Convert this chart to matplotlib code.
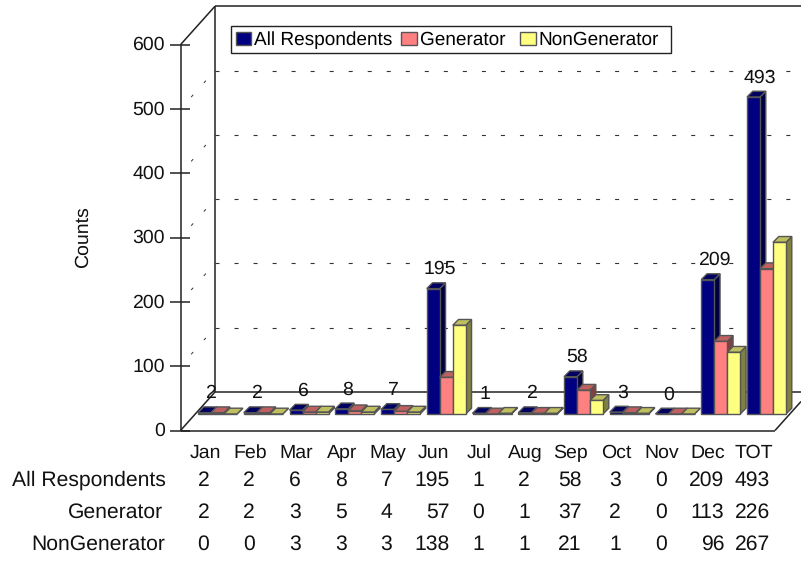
import matplotlib
matplotlib.use("Agg")
import matplotlib.pyplot as plt
from matplotlib.patches import Patch, Polygon, Rectangle
from matplotlib.transforms import Affine2D

months = ["Jan", "Feb", "Mar", "Apr", "May", "Jun", "Jul", "Aug", "Sep", "Oct", "Nov", "Dec", "TOT"]
all_respondents = [2, 2, 6, 8, 7, 195, 1, 2, 58, 3, 0, 209, 493]
generator = [2, 2, 3, 5, 4, 57, 0, 1, 37, 2, 0, 113, 226]
non_generator = [0, 0, 3, 3, 3, 138, 1, 1, 21, 1, 0, 96, 267]
series_names = ["All Respondents", "Generator", "NonGenerator"]
y_ticks = [0, 100, 200, 300, 400, 500, 600]

W, H = 801, 561
PX_PER_UNIT = 0.643
GROUP_STEP = 45.75
BASE_Y = 414       # pixel row of bar bases
FIRST_X = 217.5    # pixel column of the first group centre
FONT = 14
TABLE_FONT = 15.2
LEGEND_FONT = 13.7

# face, top, side colours for each series
colors = [("#000080", "#000060", "#000040"),
          ("#FF8080", "#BF6060", "#804040"),
          ("#FFFF80", "#BFBF60", "#808040")]
EDGE = "#555555"

plt.rcParams["font.family"] = ["Liberation Sans", "DejaVu Sans"]
plt.rcParams["text.hinting"] = "no_hinting"
plt.rcParams["lines.scale_dashes"] = False

fig = plt.figure(figsize=(W / 100, H / 100), dpi=100)
ax = fig.add_axes([0, 0, 1, 1])
ax.set_xlim(-FIRST_X / GROUP_STEP, (W - FIRST_X) / GROUP_STEP)
ax.set_ylim((BASE_Y - H) / PX_PER_UNIT, BASE_Y / PX_PER_UNIT)
ax.axis("off")

# pixel coordinates (y down) for the frame and table text
px = Affine2D().scale(1, -1).translate(0, H)
BLACK = "#111111"


def frame_line(xs, ys, **kw):
    ax.plot(xs, ys, transform=px, color="#222222", lw=1.1, solid_capstyle="butt", zorder=1, **kw)


# back wall and floor
FRONT_X, FRONT_Y = 180.5, 430.5
BACK_X, BACK_Y = 215, 392
top_front = FRONT_Y - 600 * PX_PER_UNIT
top_back = BACK_Y - 600 * PX_PER_UNIT
frame_line([FRONT_X, FRONT_X], [top_front, FRONT_Y])
frame_line([BACK_X, BACK_X], [top_back, BACK_Y])
frame_line([BACK_X, W], [top_back, top_back])
frame_line([BACK_X, W], [BACK_Y, BACK_Y])
frame_line([FRONT_X, 775], [FRONT_Y, FRONT_Y])
frame_line([FRONT_X, BACK_X], [FRONT_Y, BACK_Y])
frame_line([FRONT_X, BACK_X], [top_front, top_back])
frame_line([775, W], [FRONT_Y, FRONT_Y - 29])

for v in y_ticks:
    offset = v * PX_PER_UNIT
    frame_line([170, 190], [FRONT_Y - offset] * 2)
    ax.text(165, FRONT_Y - offset + 0.5, str(v), transform=px, ha="right", va="center",
            fontsize=FONT, color=BLACK)
    if 0 < v < 600:
        ax.plot([BACK_X, W], [BACK_Y - offset] * 2, transform=px, color="#333333", lw=0.8,
                linestyle=(0, (2.9, 10.8)), dash_capstyle="butt", zorder=1)
        ax.plot([FRONT_X, BACK_X], [FRONT_Y - offset, BACK_Y - offset], transform=px,
                color="#333333", lw=0.7, linestyle=(2.2, (2.2, 11.5)), dash_capstyle="butt", zorder=1)

ax.text(83, 237, "Counts", transform=px, rotation=90, ha="center", va="center",
        fontsize=FONT, color=BLACK)

# bars, drawn as front face plus top and side faces
bar_w = 13 / GROUP_STEP
dx = 5.8 / GROUP_STEP
dy = 5.8 / PX_PER_UNIT
series = [all_respondents, generator, non_generator]
z = 3
for i in range(len(months)):
    for s, values in enumerate(series):
        v = values[i]
        left = i + (s - 1.5) * bar_w
        right = left + bar_w
        face, top, side = colors[s]
        ax.add_patch(Polygon([(right, 0), (right + dx, dy), (right + dx, v + dy), (right, v)],
                             facecolor=side, edgecolor=EDGE, lw=1.0, zorder=z))
        ax.add_patch(Polygon([(left, v), (right, v), (right + dx, v + dy), (left + dx, v + dy)],
                             facecolor=top, edgecolor=EDGE, lw=1.0, zorder=z))
        ax.bar(left, v, width=bar_w, align="edge", color=face, edgecolor=EDGE, lw=1.0, zorder=z + 0.5)
        z += 1

# value labels above the All Respondents bars
for i, v in enumerate(all_respondents):
    ax.annotate(str(v), (i - bar_w, v), xytext=(4.5, 14), textcoords="offset points",
                ha="center", va="center", fontsize=FONT, color=BLACK, zorder=200)

# month labels and data rows under the chart
for i, m in enumerate(months):
    centre = 205 + 45.7 * i
    ax.text(centre, 453, m, transform=px, ha="center", va="center", fontsize=FONT, color=BLACK)

row_ys = [480.5, 512.5, 544.5]
label_right = [166, 163, 165]
for r, values in enumerate(series):
    ax.text(label_right[r], row_ys[r], series_names[r], transform=px, ha="right", va="center",
            fontsize=TABLE_FONT, color=BLACK)
    for i, v in enumerate(values):
        widest = max(len(str(column[i])) for column in series)
        right = 203.5 + GROUP_STEP * i + widest * 5.9
        ax.text(right, row_ys[r], str(v), transform=px, ha="right", va="center",
                fontsize=TABLE_FONT, color=BLACK)

# legend box is wider on the right than the legend padding allows, so it is drawn apart
ax.add_patch(Rectangle((231, 26), 440, 27, transform=px, facecolor="white", edgecolor="#222222",
                       lw=1.0, zorder=299))
# trailing space widens the gap before the last legend entry
legend_labels = [series_names[0], series_names[1] + " ", series_names[2]]
handles = [Patch(facecolor=colors[s][0], edgecolor=EDGE, lw=1.0, label=legend_labels[s]) for s in range(3)]
leg = ax.legend(handles=handles, ncol=3, loc="center left", bbox_to_anchor=(235.5 / W, 1 - 40 / H),
                bbox_transform=fig.transFigure, fontsize=LEGEND_FONT, frameon=False, borderaxespad=0,
                borderpad=0, handlelength=0.83, handleheight=0.68, handletextpad=0.15, columnspacing=0.47)
leg.set_zorder(300)

fig.savefig("out.png", dpi=100)
